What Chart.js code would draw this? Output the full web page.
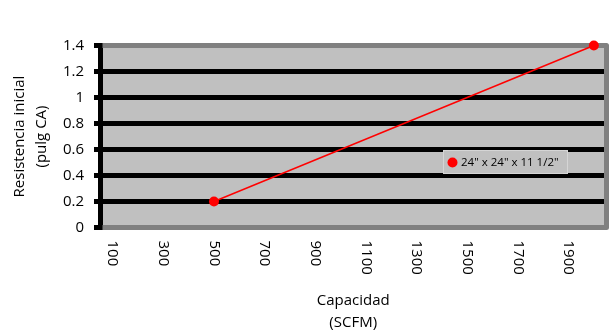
<!DOCTYPE html>
<html>
<head>
<meta charset="utf-8">
<script src="https://cdn.jsdelivr.net/npm/chart.js@4/dist/chart.umd.min.js"></script>
<style>
  html, body { margin: 0; padding: 0; background: #fff; }
  #wrap { width: 616px; height: 336px; }
</style>
</head>
<body>
<div id="wrap"><canvas id="c"></canvas></div>
<script>
// datos
const SERIE = '24" x 24" x 11 1/2"';
const CAPACIDAD = [500, 2000];     // SCFM
const RESISTENCIA = [0.2, 1.4];    // pulg CA
const X_TICKS = [100, 300, 500, 700, 900, 1100, 1300, 1500, 1700, 1900];
const Y_TICKS = [0, 0.2, 0.4, 0.6, 0.8, 1, 1.2, 1.4];

const FUENTE = "'Open Sans', sans-serif";
const FONDO = "#c0c0c0";
const MARCO = "#808080";
const ROJO = "#ff0000";

// fondo gris + marco del área de trazado
const areaPlugin = {
  id: "area",
  beforeDraw(chart) {
    const { ctx, chartArea: a } = chart;
    ctx.save();
    ctx.fillStyle = FONDO;
    ctx.fillRect(a.left, a.top, a.right - a.left, a.bottom - a.top);
    ctx.restore();
  },
  beforeDatasetsDraw(chart) {
    const { ctx, chartArea: a } = chart;
    ctx.save();
    ctx.strokeStyle = MARCO;
    ctx.lineWidth = 5;
    ctx.lineJoin = "round";
    ctx.beginPath();
    ctx.moveTo(a.left + 2.5, a.top);
    ctx.lineTo(a.right, a.top);
    ctx.lineTo(a.right, a.bottom);
    ctx.lineTo(a.left + 2.5, a.bottom);
    ctx.stroke();
    ctx.restore();
  },
  afterDraw(chart) {
    // etiquetas del eje X giradas 90° (se leen de arriba abajo)
    const { ctx } = chart;
    const sx = chart.scales.x;
    ctx.save();
    ctx.fillStyle = "#000";
    ctx.font = "15px " + FUENTE;
    ctx.textAlign = "left";
    ctx.textBaseline = "middle";
    X_TICKS.forEach(v => {
      ctx.save();
      ctx.translate(sx.getPixelForValue(v), chart.chartArea.bottom + 13);
      ctx.rotate(Math.PI / 2);
      ctx.fillText(String(v), 0, 0);
      ctx.restore();
    });
    ctx.restore();
  },
  afterDatasetsDraw(chart) {
    // leyenda dentro del área
    const { ctx } = chart;
    const ds = chart.data.datasets[0];
    const x = 443, y = 150, w = 125, h = 24;
    ctx.save();
    ctx.fillStyle = FONDO;
    ctx.fillRect(x, y, w, h);
    ctx.strokeStyle = "rgba(215,215,215,0.9)";
    ctx.lineWidth = 1;
    ctx.strokeRect(x + 0.5, y + 0.5, w - 1, h - 1);
    ctx.fillStyle = ds.pointBackgroundColor;
    ctx.beginPath();
    ctx.arc(x + 9.5, y + 12.5, 5, 0, Math.PI * 2);
    ctx.fill();
    ctx.fillStyle = "#000";
    ctx.font = "11.5px " + FUENTE;
    ctx.textBaseline = "middle";
    ctx.fillText(ds.label, x + 18, y + 12.5);
    ctx.restore();
  },
};

new Chart(document.getElementById("c"), {
  type: "scatter",
  data: {
    datasets: [{
      label: SERIE,
      data: CAPACIDAD.map((x, i) => ({ x, y: RESISTENCIA[i] })),
      showLine: true,
      borderColor: ROJO,
      borderWidth: 1.5,
      pointRadius: 5,
      pointBackgroundColor: ROJO,
      pointBorderColor: ROJO,
      pointBorderWidth: 0,
      clip: false,
    }],
  },
  options: {
    responsive: true,
    maintainAspectRatio: false,
    animation: false,
    layout: { padding: { top: 45.5, right: 9.5, bottom: 0, left: 0 } },
    plugins: { legend: { display: false }, tooltip: { enabled: false } },
    scales: {
      x: {
        type: "linear",
        min: 50, max: 2050,
        afterBuildTicks: ax => { ax.ticks = X_TICKS.map(v => ({ value: v })); },
        afterFit: ax => { ax.height = 108.5; },
        ticks: { display: false },
        grid: { display: false },
        border: { display: false },
        title: {
          display: true,
          text: ["Capacidad", "(SCFM)"],
          color: "#000",
          font: { family: FUENTE, size: 15, lineHeight: "22px" },
          padding: { top: 0, bottom: 2.5 },
        },
      },
      y: {
        min: 0, max: 1.4,
        afterBuildTicks: ax => { ax.ticks = Y_TICKS.map(v => ({ value: v })); },
        afterFit: ax => { ax.width = 100; },
        ticks: {
          color: "#000",
          padding: 10,
          font: { family: FUENTE, size: 15 },
          callback: v => String(v),
        },
        grid: {
          color: "#000",
          lineWidth: 5,
          tickColor: "#000",
          tickLength: 6,
          tickWidth: 5,
        },
        border: { color: "#000", width: 5 },
        title: {
          display: true,
          text: ["Resistencia inicial", "(pulg CA)"],
          color: "#000",
          font: { family: FUENTE, size: 15, lineHeight: "22px" },
          padding: { top: 9, bottom: 0 },
        },
      },
    },
  },
  plugins: [areaPlugin],
});
</script>
</body>
</html>
